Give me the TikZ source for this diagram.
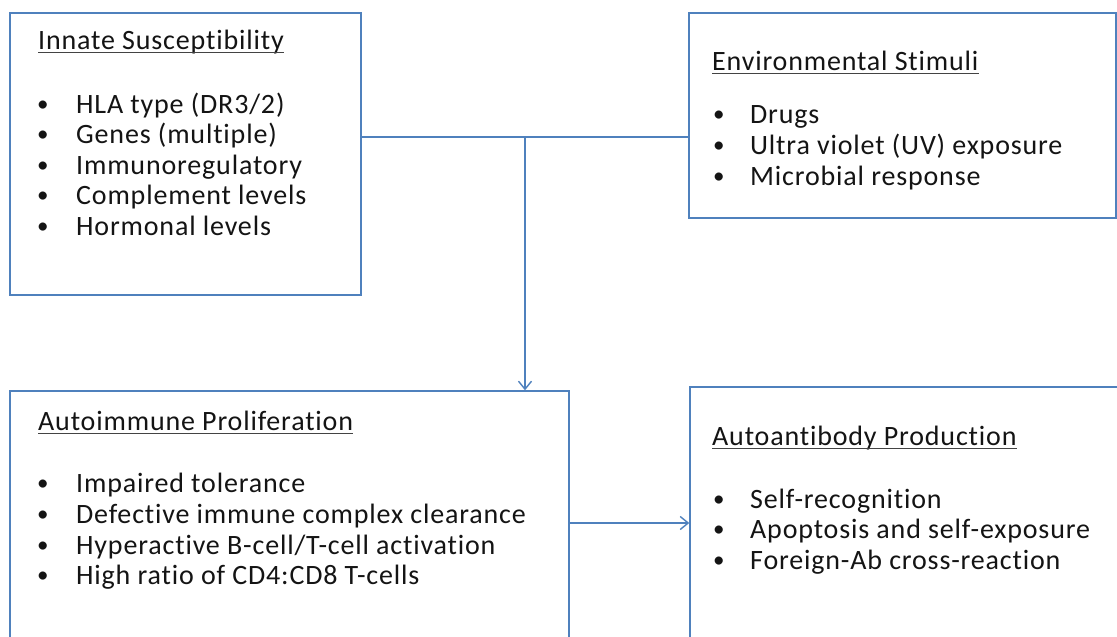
\documentclass[tikz,border=0pt]{standalone}
\usepackage{fontspec}
\setmainfont{Carlito}[LetterSpace=3,Ligatures={NoCommon}]
\usetikzlibrary{arrows.meta}
\definecolor{boxblue}{RGB}{79,129,189}
\definecolor{txtcol}{RGB}{20,20,20}
\begin{document}
\begin{tikzpicture}[x=1pt,y=-1pt,
  box/.style={draw=boxblue, line width=1.4pt, rectangle, inner sep=0pt},
  conn/.style={draw=boxblue, line width=1.4pt},
  arr/.style={conn, -{Straight Barb[length=8pt,width=13pt,line width=1.4pt]}},
  txt/.style={anchor=base west, inner sep=0pt, text=txtcol, font=\fontsize{28}{31}\selectfont},
  bul/.style={anchor=base west, inner sep=0pt, text=txtcol, font=\fontsize{23}{31}\selectfont},
  ul/.style={draw=txtcol!80, line width=1.2pt}
]
\useasboundingbox (0,0) rectangle (1117,637);
\fill[white] (0,0) rectangle (1117,637);
\clip (0,0) rectangle (1117,637);

% boxes
\node[box, minimum width=351pt, minimum height=282pt] (b1) at (185.5,154) {};
\node[box, minimum width=427pt, minimum height=205pt] (b2) at (902.5,115.5) {};
\node[box, minimum width=559pt, minimum height=320pt] (b3) at (289.5,551) {};
\node[box, minimum width=460pt, minimum height=320pt] (b4) at (920,547) {};

% titles
\node[txt] (t1) at (38,49) {Innate Susceptibility};
\node[txt] (t2) at (712,70) {Environmental Stimuli};
\node[txt] (t3) at (38,430) {Autoimmune Proliferation};
\node[txt] (t4) at (712,445) {Autoantibody Production};
\foreach \t in {t1,t2,t3,t4}
  \draw[ul] ([yshift=-3.5pt]\t.base west) -- ([yshift=-3.5pt]\t.base east);

% box 1 list
\node[bul] (p1a) at (37,113) {\raisebox{1.8pt}{•}};   \node[txt] (l1a) at (76,113) {HLA type (DR3/2)};
\node[bul] (p1b) at (37,143.5) {\raisebox{1.8pt}{•}}; \node[txt] (l1b) at (76,143.5) {Genes (multiple)};
\node[bul] (p1c) at (37,174) {\raisebox{1.8pt}{•}};   \node[txt] (l1c) at (76,174) {Immunoregulatory};
\node[bul] (p1d) at (37,204.5) {\raisebox{1.8pt}{•}}; \node[txt] (l1d) at (76,204.5) {Complement levels};
\node[bul] (p1e) at (37,235) {\raisebox{1.8pt}{•}};   \node[txt] (l1e) at (76,235) {Hormonal levels};

% box 2 list
\node[bul] (p2a) at (713,123) {\raisebox{1.8pt}{•}}; \node[txt] (l2a) at (750,123) {Drugs};
\node[bul] (p2b) at (713,154) {\raisebox{1.8pt}{•}}; \node[txt] (l2b) at (750,154) {Ultra violet (UV) exposure};
\node[bul] (p2c) at (713,185) {\raisebox{1.8pt}{•}}; \node[txt] (l2c) at (750,185) {Microbial response};

% box 3 list
\node[bul] (p3a) at (37,492) {\raisebox{1.8pt}{•}}; \node[txt] (l3a) at (76,492) {Impaired tolerance};
\node[bul] (p3b) at (37,523) {\raisebox{1.8pt}{•}}; \node[txt] (l3b) at (76,523) {Defective immune complex clearance};
\node[bul] (p3c) at (37,554) {\raisebox{1.8pt}{•}}; \node[txt] (l3c) at (76,554) {Hyperactive B-cell/T-cell activation};
\node[bul] (p3d) at (37,584) {\raisebox{1.8pt}{•}}; \node[txt] (l3d) at (76,584) {High ratio of CD4:CD8 T-cells};

% box 4 list
\node[bul] (p4a) at (713,508) {\raisebox{1.8pt}{•}}; \node[txt] (l4a) at (750,508) {Self-recognition};
\node[bul] (p4b) at (713,538.5) {\raisebox{1.8pt}{•}}; \node[txt] (l4b) at (750,538.5) {Apoptosis and self-exposure};
\node[bul] (p4c) at (713,569) {\raisebox{1.8pt}{•}}; \node[txt] (l4c) at (750,569) {Foreign-Ab cross-reaction};

% connectors
\coordinate (J) at (525,137);
\coordinate (K) at (630,523);
\draw[conn] (b1.east |- J) -- (b2.west |- J);
\draw[arr] (J) -- (J |- b3.north);
\draw[arr] (b3.east |- K) -- (b4.west |- K);
\end{tikzpicture}
\end{document}
